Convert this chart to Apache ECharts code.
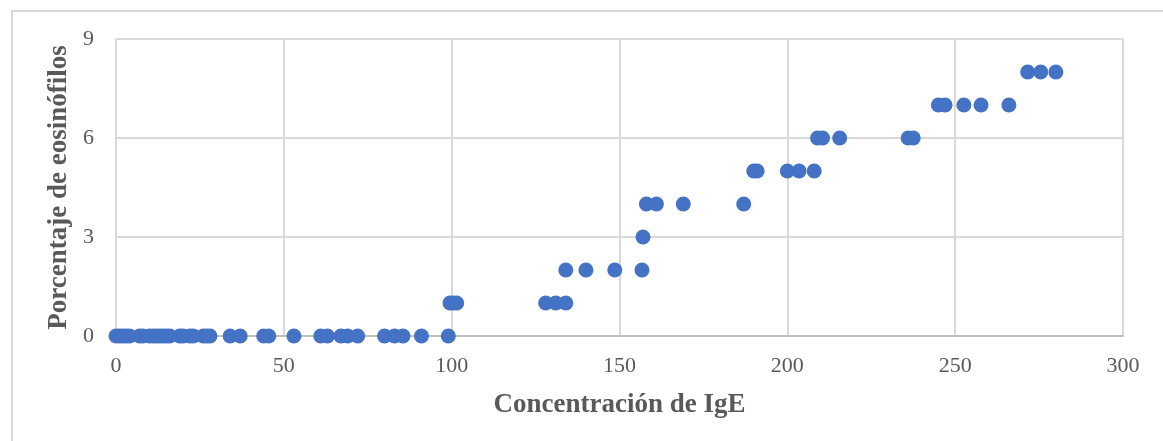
<!DOCTYPE html>
<html>
<head>
<meta charset="utf-8">
<script src="https://cdn.jsdelivr.net/npm/echarts@6/dist/echarts.min.js"></script>
<style>
html,body{margin:0;padding:0;background:#fff;}
#frame{position:absolute;left:11px;top:10px;width:1160px;height:440px;border-left:2px solid #d9d9d9;border-top:2px solid #d9d9d9;box-sizing:border-box;}
#chart{position:absolute;left:0;top:0;width:1163px;height:441px;}
</style>
</head>
<body>
<div id="frame"></div>
<div id="chart"></div>
<script>
// IgE concentration (x) and eosinophil percentage (y)
const igeZero = [0,1,2,3,4,7,8,10,11,12,13,14,15,16,19,20,22,23,26,27,28,34,37,44,45.5,53,61,63,67,69,72,80,83,85.5,91,99];
const igeOne = [99.5,100.5,101.5,128,131,134];
const igeTwo = [134,140,148.6,156.7];
const igeThree = [157];
const igeFour = [158,161,169,187];
const igeFive = [190,191,200,203.5,208];
const igeSix = [209,210.5,215.6,236,237.5];
const igeSeven = [245,247,252.6,257.7,266];
const igeEight = [271.6,275.5,280];
const xTicks = [0,50,100,150,200,250,300];
const yTicks = [0,3,6,9];

const groups = [[igeZero,0],[igeOne,1],[igeTwo,2],[igeThree,3],[igeFour,4],[igeFive,5],[igeSix,6],[igeSeven,7],[igeEight,8]];
const points = [];
groups.forEach(([xs,y]) => xs.forEach(x => points.push([x,y])));

const serif = '"Liberation Serif","DejaVu Serif",serif';
const chart = echarts.init(document.getElementById('chart'));
chart.setOption({
  animation:false,
  grid:{left:116,right:40,top:39,bottom:105,show:true,borderColor:'#d9d9d9',borderWidth:1},
  xAxis:{
    type:'value',min:xTicks[0],max:xTicks[xTicks.length-1],interval:50,
    name:'Concentración de IgE',nameLocation:'middle',nameGap:56,
    nameTextStyle:{fontFamily:serif,fontSize:27,fontWeight:'bold',color:'#595959'},
    axisLine:{show:true,lineStyle:{color:'#bfbfbf',width:2}},
    axisTick:{show:false},
    axisLabel:{fontFamily:serif,fontSize:22,color:'#595959',margin:19},
    splitLine:{show:true,lineStyle:{color:'#d9d9d9',width:2}}
  },
  yAxis:{
    type:'value',min:yTicks[0],max:yTicks[yTicks.length-1],interval:3,
    name:'Porcentaje de eosinófilos',nameLocation:'middle',nameGap:43,
    nameTextStyle:{fontFamily:serif,fontSize:27,fontWeight:'bold',color:'#595959'},
    axisLine:{show:false},
    axisTick:{show:false},
    axisLabel:{fontFamily:serif,fontSize:22,color:'#595959',margin:22},
    splitLine:{show:true,lineStyle:{color:'#d9d9d9',width:2}}
  },
  series:[{
    type:'scatter',
    data:points,
    symbol:'circle',
    symbolSize:15,
    itemStyle:{color:'#4472C4',opacity:1}
  }]
});
</script>
</body>
</html>
